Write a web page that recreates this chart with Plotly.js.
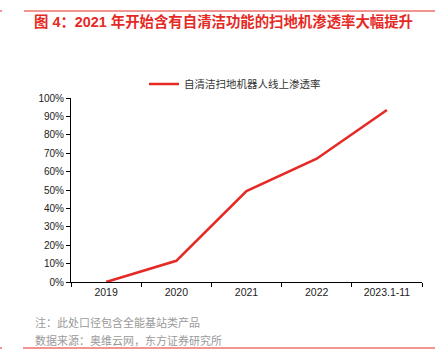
<!DOCTYPE html>
<html>
<head>
<meta charset="utf-8">
<script src="https://cdn.plot.ly/plotly-3.0.1.min.js"></script>
<style>html,body{margin:0;padding:0;background:#fff;}#chart{width:435px;height:356px;}</style>
</head>
<body>
<div id="chart"></div>
<script>
const categories = ["2019", "2020", "2021", "2022", "2023.1-11"];
const penetration = [0.0, 0.115, 0.494, 0.67, 0.935];
const seriesName = "自清洁扫地机器人线上渗透率";
const titleText = "图 4：2021 年开始含有自清洁功能的扫地机渗透率大幅提升";
const noteText = "注：此处口径包含全能基站类产品";
const sourceText = "数据来源：奥维云网，东方证券研究所";

const W = 435, H = 356, L = 71, R = 13, T = 98, B = 74;
const pw = W - L - R, ph = H - T - B;
const px = x => (x - L) / pw;
const py = y => (H - B - y) / ph;
const red = "#e52a26";
const fontFam = "Liberation Sans, Arial, Noto Sans CJK SC, sans-serif";

const trace = {
  x: categories, y: penetration, type: "scatter", mode: "lines",
  name: seriesName,
  line: {color: red, width: 2.6},
  hoverinfo: "skip"
};

const layout = {
  width: W, height: H,
  margin: {l: L, r: R, t: T, b: B},
  paper_bgcolor: "#fff", plot_bgcolor: "#fff",
  font: {family: fontFam, size: 10, color: "#222"},
  title: {
    text: "<b>" + titleText + "</b>",
    font: {family: "Liberation Sans, Noto Sans CJK SC, sans-serif", size: 14.4, color: red},
    xref: "container", yref: "container",
    x: 34 / W, xanchor: "left", y: 1 - 22 / H, yanchor: "middle"
  },
  showlegend: true,
  legend: {
    orientation: "h", x: px(144), xanchor: "left", y: py(84), yanchor: "middle",
    font: {family: "Noto Sans CJK SC, sans-serif", size: 10.5, color: "#333"},
    bgcolor: "rgba(0,0,0,0)", borderwidth: 0
  },
  xaxis: {
    type: "category", range: [-0.5, 4.5], tickson: "boundaries",
    ticks: "outside", ticklen: 4, tickcolor: "#000", tickwidth: 1,
    showline: true, linecolor: "#000", linewidth: 1,
    showgrid: false, zeroline: false,
    tickfont: {family: fontFam, size: 10.5, color: "#222"}, fixedrange: true
  },
  yaxis: {
    range: [0, 1], tickvals: [0,0.1,0.2,0.3,0.4,0.5,0.6,0.7,0.8,0.9,1.0],
    tickformat: ".0%",
    ticks: "outside", ticklen: 4, tickcolor: "#000", tickwidth: 1,
    showline: true, linecolor: "#000", linewidth: 1,
    showgrid: false, zeroline: false,
    tickfont: {family: fontFam, size: 10, color: "#222"}, fixedrange: true
  },
  shapes: [
    {type: "line", xref: "paper", yref: "paper", x0: px(24), x1: px(436), y0: py(11), y1: py(11), line: {color: red, width: 1.2}},
    {type: "line", xref: "paper", yref: "paper", x0: px(0), x1: px(2), y0: py(11), y1: py(11), line: {color: red, width: 1.2}},
    {type: "line", xref: "paper", yref: "paper", x0: px(23), x1: px(436), y0: py(348), y1: py(348), line: {color: red, width: 1.2}},
    {type: "line", xref: "paper", yref: "paper", x0: px(0), x1: px(2), y0: py(348), y1: py(348), line: {color: red, width: 1.2}}
  ],
  annotations: [
    {text: noteText, xref: "paper", yref: "paper", x: px(33), y: py(321.5), xanchor: "left", yanchor: "middle", showarrow: false,
     font: {family: "Noto Sans CJK SC, sans-serif", size: 11, color: "#9a9a9a"}},
    {text: sourceText, xref: "paper", yref: "paper", x: px(33), y: py(339.5), xanchor: "left", yanchor: "middle", showarrow: false,
     font: {family: "Noto Sans CJK SC, sans-serif", size: 11, color: "#9a9a9a"}}
  ]
};

Plotly.newPlot("chart", [trace], layout, {displayModeBar: false, staticPlot: true});
</script>
</body>
</html>
